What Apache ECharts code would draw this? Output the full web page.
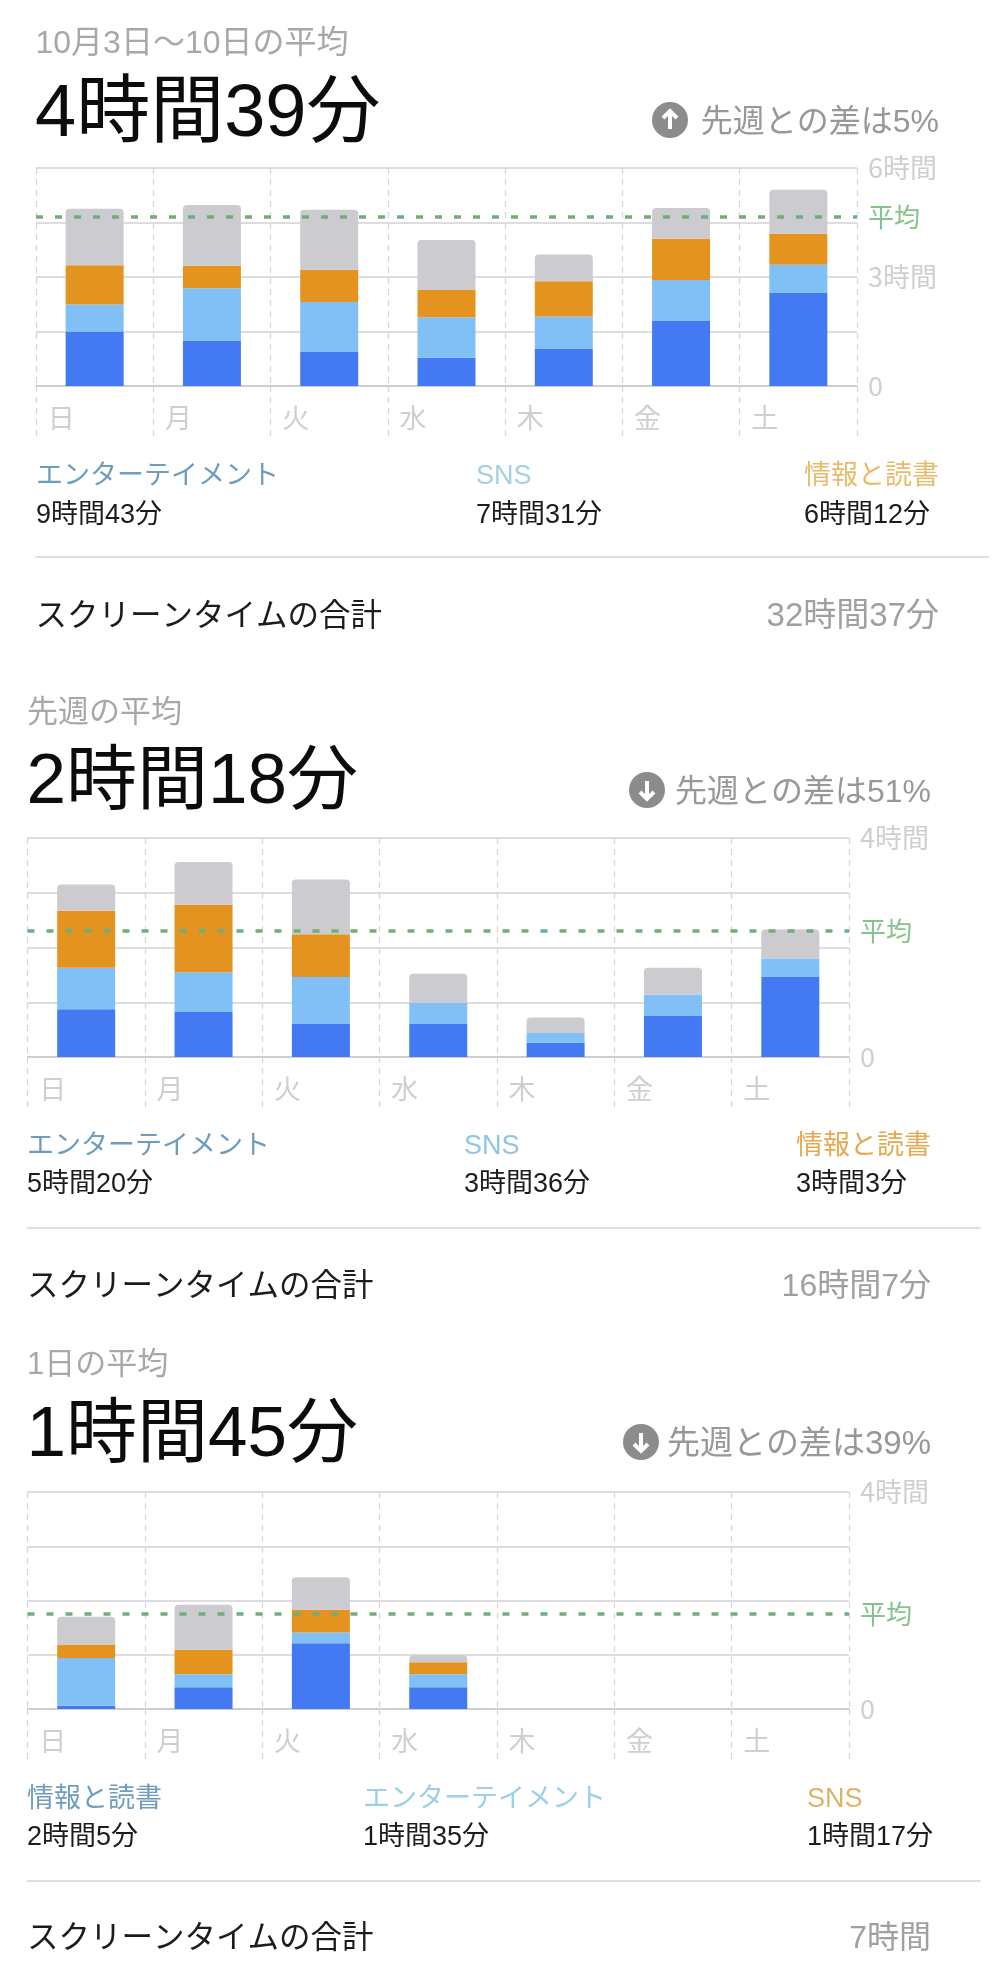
<!DOCTYPE html>
<html><head><meta charset="utf-8">
<style>html,body{margin:0;padding:0;background:#fff}#c{width:995px;height:1983px}</style>
<script src="https://cdn.jsdelivr.net/npm/echarts@6/dist/echarts.min.js"></script>
</head><body><div id="c"></div>
<script>
const days = ['日','月','火','水','木','金','土'];

// Week of 10/3 - 10/10 (hours)
const w1Blue   = [1.50,1.25,0.95,0.78,1.02,1.79,2.56];
const w1Light  = [0.74,1.44,1.36,1.11,0.89,1.13,0.78];
const w1Orange = [1.08,0.62,0.89,0.75,0.97,1.13,0.85];
const w1Grey   = [1.56,1.67,1.65,1.38,0.74,0.85,1.21];
const w1Avg = 4.65, w1Max = 6;

// Last week
const w2Blue   = [0.87,0.82,0.61,0.61,0.26,0.76,1.47];
const w2Light  = [0.76,0.73,0.85,0.38,0.18,0.38,0.33];
const w2Orange = [1.04,1.23,0.78,0,0,0,0];
const w2Grey   = [0.48,0.78,1.00,0.53,0.28,0.49,0.53];
const w2Avg = 2.30, w2Max = 4;

// Current week
const w3Blue   = [0.06,0.40,1.21,0.40,null,null,null];
const w3Light  = [0.88,0.24,0.20,0.24,null,null,null];
const w3Orange = [0.25,0.45,0.42,0.22,null,null,null];
const w3Grey   = [0.51,0.83,0.60,0.13,null,null,null];
const w3Avg = 1.75, w3Max = 4;

const w1Text = {sub:'10月3日～10日の平均', big:'4時間39分', diff:'先週との差は5%', up:true,
  legend:[['エンターテイメント','9時間43分'],['SNS','7時間31分'],['情報と読書','6時間12分']],
  total:'32時間37分'};
const w2Text = {sub:'先週の平均', big:'2時間18分', diff:'先週との差は51%', up:false,
  legend:[['エンターテイメント','5時間20分'],['SNS','3時間36分'],['情報と読書','3時間3分']],
  total:'16時間7分'};
const w3Text = {sub:'1日の平均', big:'1時間45分', diff:'先週との差は39%', up:false,
  legend:[['情報と読書','2時間5分'],['エンターテイメント','1時間35分'],['SNS','1時間17分']],
  total:'7時間'};
const totalLabel = 'スクリーンタイムの合計';
const avgLabel = '平均';

const FONT = '"Liberation Sans","Noto Sans CJK JP",sans-serif';
const FONT_AXIS = '"Noto Sans CJK JP",sans-serif';
const C = {blue:'#4479f4', light:'#80c0f6', orange:'#e5931f', grey:'#cbcbd0', avg:'#6fae7c', avgText:'#86c38c'};

const panels = [
 {d:[w1Blue,w1Light,w1Orange,w1Grey], avg:w1Avg, max:w1Max, step:1.5, t:w1Text,
  l:36, r:857, top:168, zero:386, right:939, bigSize:74, diffSize:32, totalSize:33,
  ySub:41, yBig:113, yDiff:120, iconX:670, yLeg:474, yVal:513, yDiv:557, yTot:614,
  legX:[36,476,804], legC:['#6e9dbe','#a6d0e0','#e8bb6a']},
 {d:[w2Blue,w2Light,w2Orange,w2Grey], avg:w2Avg, max:w2Max, step:1, t:w2Text,
  l:27.5, r:849, top:838, zero:1057, right:931, bigSize:71, diffSize:32, totalSize:32,
  ySub:710, yBig:780, yDiff:790, iconX:647, yLeg:1144, yVal:1182, yDiv:1228, yTot:1284,
  legX:[27,464,796], legC:['#6e9dbe','#8fc6e4','#e5a94f']},
 {d:[w3Blue,w3Light,w3Orange,w3Grey], avg:w3Avg, max:w3Max, step:1, t:w3Text,
  l:27.5, r:849, top:1492, zero:1709, right:931, bigSize:71, diffSize:33, totalSize:32,
  ySub:1362, yBig:1433, yDiff:1442, iconX:641, yLeg:1797, yVal:1835, yDiv:1881, yTot:1936,
  legX:[27,363,807], legC:['#6e9dbe','#9ad0ea','#dfb264']}
];
const fills = [C.blue,C.light,C.orange,C.grey];

const grid=[],xAxis=[],yAxis=[],series=[],graphic=[];
function txt(x,y,s,size,fill,align){
  graphic.push({type:'text',x,y:y+3,silent:true,style:{text:s,fontFamily:FONT,fontSize:size,fill,align:align||'left',verticalAlign:'middle'}});
}
panels.forEach((p,i)=>{
  grid.push({left:p.l,top:p.top,width:p.r-p.l,height:p.zero-p.top,containLabel:false});
  xAxis.push({type:'category',gridIndex:i,data:days,boundaryGap:true,
    axisLine:{show:true,lineStyle:{color:'#c9c9cb',width:1.5}},
    axisTick:{show:true,length:51,alignWithLabel:false,lineStyle:{color:'#d6d6d8',type:[6,5],width:1.2}},
    splitLine:{show:true,lineStyle:{color:'#d6d6d8',type:[6,5],width:1.2}},
    axisLabel:{show:true,interval:0,color:'#cfcfd1',fontFamily:FONT,fontSize:27,align:'right',padding:[0,20,0,0],margin:21}});
  yAxis.push({type:'value',gridIndex:i,position:'right',min:0,max:p.max,interval:p.step,
    axisLine:{show:false},axisTick:{show:false},
    splitLine:{show:true,lineStyle:{color:'#d2d2d4',width:1.5}},
    axisLabel:{show:true,margin:11,color:'#cfcfd1',fontFamily:FONT_AXIS,fontSize:27,
      formatter:v=>v===0?'0':(v===p.max||(v===p.max/2&&p.max===6)?v+'時間':'')}});
  p.d.forEach((vals,k)=>{
    const s={type:'bar',xAxisIndex:i,yAxisIndex:i,stack:'w'+i,data:vals,barWidth:58,
      itemStyle:{color:fills[k],borderRadius:k===3?[4,4,0,0]:0},silent:true,animation:false};
    if(k===3){
      s.markLine={silent:true,symbol:'none',animation:false,z:10,
        lineStyle:{color:C.avg,type:[7,12],width:3.5,opacity:1},
        label:{show:true,position:'end',formatter:avgLabel,color:C.avgText,fontFamily:FONT_AXIS,fontSize:26,distance:11},
        data:[{yAxis:p.avg}]};
    }
    series.push(s);
  });
  // header and footer text
  const t=p.t;
  txt(p.l-0.5,p.ySub,t.sub,i===0?32:31,'#a8a8ac');
  txt(p.l-1,p.yBig,t.big,p.bigSize,'#0c0c0c');
  txt(p.right,p.yDiff,t.diff,p.diffSize,'#98989c','right');
  graphic.push({type:'circle',silent:true,shape:{cx:p.iconX,cy:p.yDiff,r:18},style:{fill:'#8c8c8e'}});
  const a=t.up?-1:1;
  graphic.push({type:'polyline',silent:true,shape:{points:[[p.iconX,p.yDiff-9*a],[p.iconX,p.yDiff+9*a]]},style:{stroke:'#fff',lineWidth:4,fill:null}});
  graphic.push({type:'polyline',silent:true,shape:{points:[[p.iconX-7,p.yDiff+2*a],[p.iconX,p.yDiff+9*a],[p.iconX+7,p.yDiff+2*a]]},style:{stroke:'#fff',lineWidth:4,fill:null}});
  t.legend.forEach((e,j)=>{
    txt(p.legX[j],p.yLeg,e[0],27,p.legC[j]);
    txt(p.legX[j],p.yVal,e[1],27,'#1c1c1c');
  });
  graphic.push({type:'line',silent:true,shape:{x1:p.l-0.5,y1:p.yDiv,x2:p.l+953,y2:p.yDiv},style:{stroke:'#d4d4d6',lineWidth:1.5}});
  txt(p.l-0.5,p.yTot,totalLabel,31.5,'#1c1c1c');
  txt(p.right,p.yTot,t.total,p.totalSize,'#a0a0a4','right');
});
const chart=echarts.init(document.getElementById('c'),null,{renderer:'canvas'});
chart.setOption({animation:false,backgroundColor:'#fff',grid,xAxis,yAxis,series,graphic});
</script></body></html>
